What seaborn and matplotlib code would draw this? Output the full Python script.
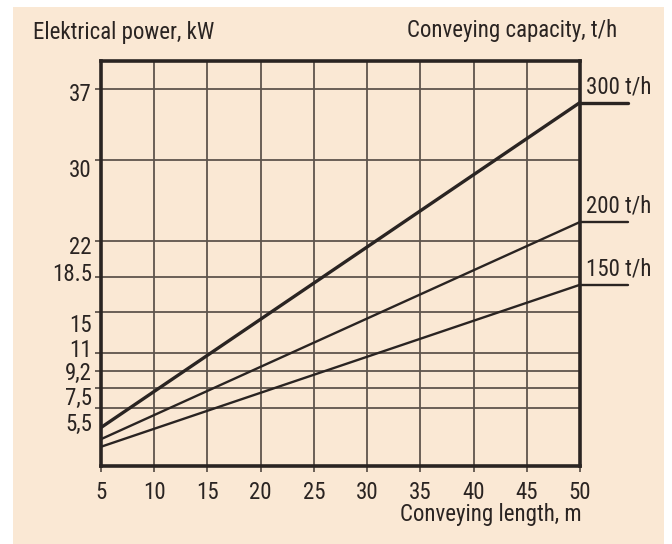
import matplotlib
matplotlib.use("Agg")
import matplotlib.pyplot as plt
from matplotlib import font_manager
import matplotlib.transforms as mtransforms
import seaborn as sns
import pandas as pd
from matplotlib.patches import Rectangle

# ---- data ----
length_m = [5, 50]
power_300 = [3.6, 35.7]
power_200 = [2.45, 23.9]
power_150 = [1.7, 17.7]
capacities = ["300 t/h", "200 t/h", "150 t/h"]
x_ticks = [5, 10, 15, 20, 25, 30, 35, 40, 45, 50]
y_ticks = [5.5, 7.5, 9.2, 11, 15, 18.5, 22, 30, 37]
y_tick_labels = ["5,5", "7,5", "9,2", "11", "15", "18.5", "22", "30", "37"]

# layout only: vertical nudges (px, downwards) of y tick labels as in the original
y_label_nudge_px = [14, 8, 0, -5, 11, -5, 4, 7.5, 3]

rows = []
for cap, vals in zip(capacities, [power_300, power_200, power_150]):
    for x, y in zip(length_m, vals):
        rows.append({"length": x, "power": y, "capacity": cap})
df = pd.DataFrame(rows)

sns.set_theme(style="white")

# pick a condensed sans font if one is installed
cands = []
for f in font_manager.fontManager.ttflist:
    st = str(f.stretch).lower()
    nm = f.name.lower()
    if f.style == "normal" and (("condensed" in st) or ("narrow" in nm) or ("condensed" in nm) or st in ("700", "600", "500")):
        cands.append(f)
chosen = None
for pref in ["Liberation Sans Narrow", "Roboto Condensed", "Open Sans Condensed", "Noto Sans", "DejaVu Sans"]:
    for f in cands:
        if f.name == pref and f.weight in (400, "normal", "regular", "book"):
            chosen = f
            break
    if chosen:
        break
if chosen is None and cands:
    chosen = cands[0]

if chosen is not None:
    plt.rcParams['font.family'] = [chosen.name, 'DejaVu Sans']
    plt.rcParams['font.stretch'] = chosen.stretch
else:
    plt.rcParams['font.family'] = ['Liberation Sans', 'DejaVu Sans']

BG = "#FAE8D4"
INK = "#2a2422"
GRID = "#5e544c"
FS = 16.5

fig = plt.figure(figsize=(6.72, 5.44), dpi=100)
fig.patch.set_facecolor("white")
fig.patches.append(Rectangle((13 / 672, 0), (664 - 13) / 672, 1 - 7 / 544,
                             transform=fig.transFigure, facecolor=BG,
                             edgecolor="none", zorder=-10))

ax = fig.add_axes([101 / 672, 1 - 466 / 544, (580 - 101) / 672, (466 - 61) / 544])
ax.set_facecolor(BG)

sns.lineplot(data=df, x="length", y="power", hue="capacity",
             palette={c: INK for c in capacities},
             size="capacity", sizes={"300 t/h": 2.4, "200 t/h": 1.7, "150 t/h": 1.7},
             legend=False, ax=ax, zorder=5)

ax.set_xlim(5, 50)
ax.set_ylim(-0.2, 39.8)
ax.set_xticks(x_ticks)
ax.set_xticklabels([str(v) for v in x_ticks])
ax.set_yticks(y_ticks)
ax.grid(True, color=GRID, linewidth=1.3)
ax.tick_params(axis="both", which="both", length=4, width=1.3, color=GRID,
               labelsize=FS, labelcolor=INK, pad=4, left=True, bottom=True)
ax.tick_params(axis="x", pad=7)
ax.tick_params(axis="y", labelleft=False)
for s in ax.spines.values():
    s.set_color(INK)
    s.set_linewidth(2.6)
    s.set_visible(True)
ax.set_xlabel("")
ax.set_ylabel("")

# y tick labels, nudged like the original so close values do not collide
blend = mtransforms.blended_transform_factory(ax.transAxes, ax.transData)
for val, lab, dy in zip(y_ticks, y_tick_labels, y_label_nudge_px):
    tr = blend + mtransforms.ScaledTranslation(-9 / 100, -dy / 100, fig.dpi_scale_trans)
    ax.text(0, val, lab, transform=tr, fontsize=FS, color=INK,
            ha="right", va="center_baseline", clip_on=False)

for cap, vals, lw in zip(capacities, [power_300, power_200, power_150], [2.4, 1.7, 1.7]):
    yend = vals[-1]
    ax.plot([50, 54.5], [yend, yend], color=INK, lw=lw, clip_on=False, zorder=6)
    ax.text(50.6, yend + 0.4, cap, fontsize=FS, color=INK, ha="left", va="bottom",
            clip_on=False)

fig.text(33 / 672, 1 - 33 / 544, "Elektrical power, kW", fontsize=FS, color=INK,
         ha="left", va="center")
fig.text(617 / 672, 1 - 30 / 544, "Conveying capacity, t/h", fontsize=FS, color=INK,
         ha="right", va="center")
fig.text(582 / 672, 1 - 515 / 544, "Conveying length, m", fontsize=FS, color=INK,
         ha="right", va="center")

fig.savefig("out.png", dpi=100, facecolor=fig.get_facecolor())
